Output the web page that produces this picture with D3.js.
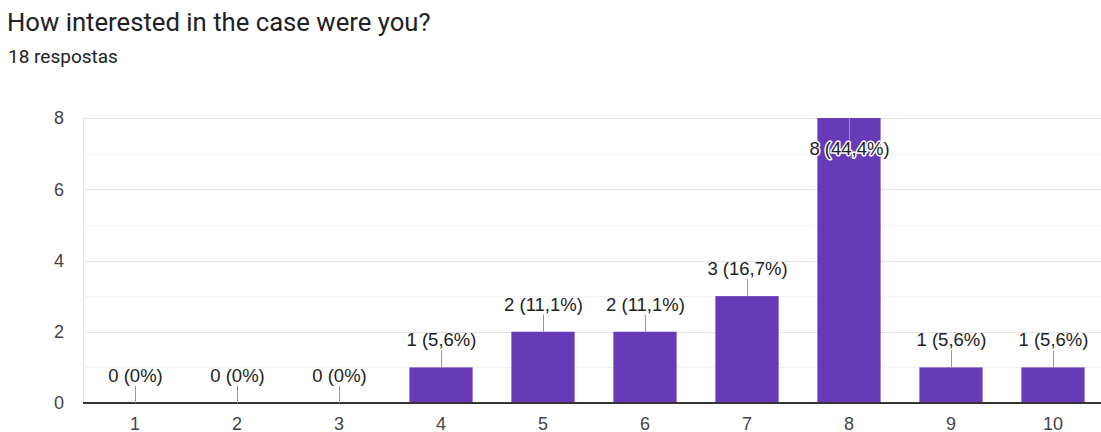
<!DOCTYPE html>
<html>
<head>
<meta charset="utf-8">
<script src="https://cdn.jsdelivr.net/npm/d3@7"></script>
<style>
  html, body { margin: 0; padding: 0; background: #fff; }
  svg { display: block; }
</style>
</head>
<body>
<svg id="chart" width="1101" height="432"></svg>
<script>
const title = "How interested in the case were you?";
const subtitle = "18 respostas";
const categories = ["1", "2", "3", "4", "5", "6", "7", "8", "9", "10"];
const values = [0, 0, 0, 1, 2, 2, 3, 8, 1, 1];
const percents = ["0%", "0%", "0%", "5,6%", "11,1%", "11,1%", "16,7%", "44,4%", "5,6%", "5,6%"];
const yTicks = [0, 2, 4, 6, 8];
const yMinorTicks = [1, 3, 5, 7];

(function () {
const svg = d3.select("#chart");
const W = 1101, H = 432;
const pLeft = 83, pRight = 1104, pTop = 118, pBottom = 403;

const x = d3.scaleBand().domain(categories).range([pLeft + 1, pRight])
  .paddingInner(0.38).paddingOuter(0.19);
const y = d3.scaleLinear().domain([0, 8]).range([pBottom, pTop]);

// Title
svg.append("text").attr("x", 7).attr("y", 31)
  .attr("font-family", "Roboto, Arial, sans-serif").attr("font-size", 25.7)
  .attr("fill", "#202124").text(title);
svg.append("text").attr("x", 8).attr("y", 63)
  .attr("font-family", "Roboto, Arial, sans-serif").attr("font-size", 19)
  .attr("fill", "#202124").text(subtitle);

// Gridlines
svg.append("g").selectAll("line").data(yMinorTicks).join("line")
  .attr("x1", pLeft).attr("x2", W)
  .attr("y1", d => Math.round(y(d)) + 0.5).attr("y2", d => Math.round(y(d)) + 0.5)
  .attr("stroke", "#f3f3f3").attr("stroke-width", 1);
svg.append("g").selectAll("line").data(yTicks.filter(d => d > 0)).join("line")
  .attr("x1", pLeft).attr("x2", W)
  .attr("y1", d => Math.round(y(d)) + 0.5).attr("y2", d => Math.round(y(d)) + 0.5)
  .attr("stroke", "#e6e6e6").attr("stroke-width", 1);
svg.append("line").attr("x1", pLeft + 0.5).attr("x2", pLeft + 0.5)
  .attr("y1", pTop).attr("y2", pBottom).attr("stroke", "#e6e6e6");

// Y tick labels
svg.append("g").selectAll("text").data(yTicks).join("text")
  .attr("x", 64).attr("y", d => y(d))
  .attr("dy", "0.35em").attr("text-anchor", "end")
  .attr("font-family", "Arial, 'Liberation Sans', sans-serif").attr("font-size", 18)
  .attr("fill", "#444").text(d => d);

// Bars
const data = categories.map((c, i) => ({ c, v: values[i], p: percents[i] }));
svg.append("g").selectAll("rect").data(data).join("rect")
  .attr("x", d => x(d.c)).attr("width", x.bandwidth())
  .attr("y", d => y(d.v)).attr("height", d => pBottom - y(d.v))
  .attr("fill", "#673ab7");

// Axis line
svg.append("line").attr("x1", pLeft).attr("x2", W)
  .attr("y1", pBottom).attr("y2", pBottom)
  .attr("stroke", "#333").attr("stroke-width", 2);

// X tick labels
svg.append("g").selectAll("text").data(categories).join("text")
  .attr("x", d => x(d) + x.bandwidth() / 2).attr("y", 430)
  .attr("text-anchor", "middle")
  .attr("font-family", "Arial, 'Liberation Sans', sans-serif").attr("font-size", 18)
  .attr("fill", "#444").text(d => d);

// Data labels with leader lines
const lab = svg.append("g");
data.forEach(d => {
  const cx = Math.round(x(d.c) + x.bandwidth() / 2) + 0.5;
  const yt = y(d.v);
  const inside = yt - 30 < pTop;
  const lineEnd = inside ? yt + 22 : yt - 17;
  const base = inside ? yt + 37 : yt - 21;
  lab.append("line").attr("x1", cx).attr("x2", cx)
    .attr("y1", yt).attr("y2", lineEnd)
    .attr("stroke", "#999").attr("stroke-width", 1);
  const t = lab.append("text").attr("x", cx).attr("y", base)
    .attr("text-anchor", "middle")
    .attr("font-family", "Arial, 'Liberation Sans', sans-serif").attr("font-size", 18.5)
    .attr("fill", "#222").text(`${d.v} (${d.p})`);
  if (inside) {
    t.attr("stroke", "#fff").attr("stroke-width", 3).attr("paint-order", "stroke")
      .attr("stroke-linejoin", "round");
  }
});
})();
</script>
</body>
</html>
